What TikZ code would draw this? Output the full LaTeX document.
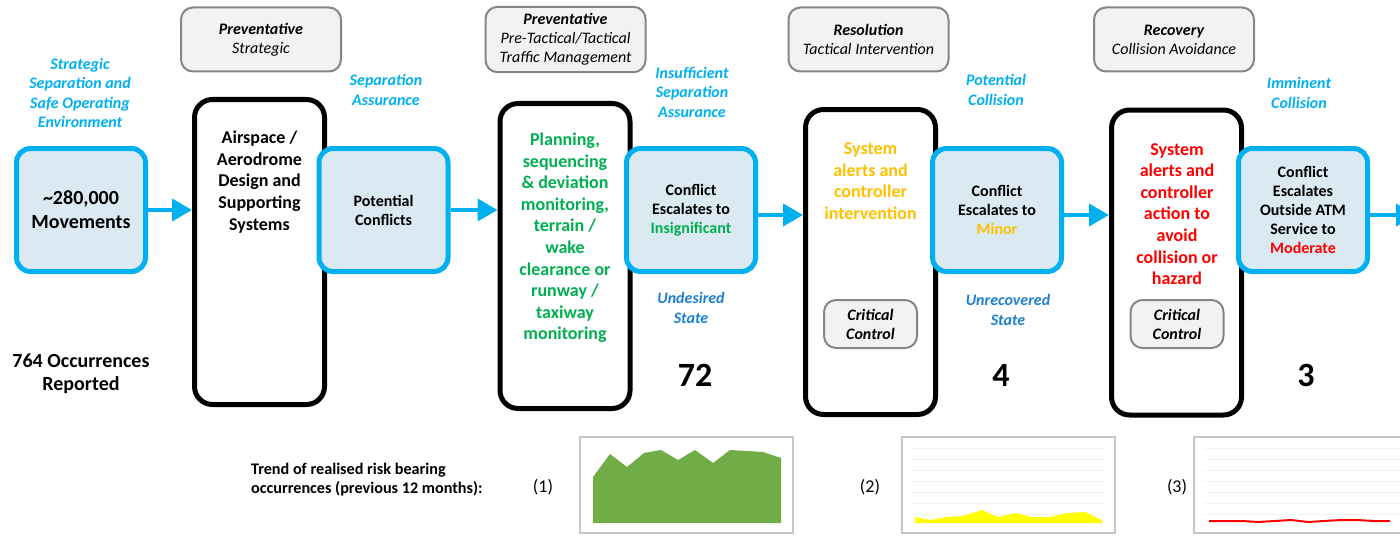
\documentclass[tikz,border=0pt]{standalone}
\usepackage{fontspec}
\setmainfont{Carlito}
\usetikzlibrary{arrows.meta}

\definecolor{skyblue}{RGB}{0,176,240}
\definecolor{stateblue}{RGB}{30,128,210}
\definecolor{boxfill}{RGB}{219,234,242}
\definecolor{safegreen}{RGB}{0,176,80}
\definecolor{minorgold}{RGB}{255,192,0}
\definecolor{chartgreen}{RGB}{112,173,71}
\definecolor{chartyellow}{RGB}{255,255,0}

\tikzset{
    graybox/.style={rectangle,rounded corners=6pt,line width=1pt,draw=black!48,fill=black!5,align=center},
    gridline/.style={black!5,line width=0.5pt},
    chartframe/.style={black!22,line width=0.6pt}
}

\begin{document}
\begin{tikzpicture}[x=0.5pt,y=-0.5pt]

    \useasboundingbox (0,0) rectangle (1400,535);
    \clip (0,0) rectangle (1400,535);

        \begin{scope}[every node/.style={rectangle,rounded corners=9pt,line width=2.5pt,draw=black,fill=white,minimum width=65pt,minimum height=152.5pt}]
            \node (b1) at (259.5,252) {};
            \node (b2) at (565,256) {};
            \node (b3) at (870.5,262) {};
            \node (b4) at (1176.5,262.5) {};
        \end{scope}

        \begin{scope}[every node/.style={rectangle,rounded corners=7pt,line width=2.5pt,draw=skyblue,fill=boxfill,minimum width=64.5pt,minimum height=61.5pt,align=center,font=\bfseries\fontsize{8}{9.5}\selectfont}]
            \node[font=\bfseries\fontsize{10}{12}\selectfont] (m1) at (81,210) {\textasciitilde280,000\\Movements};
            \node (m2) at (383.5,210) {Potential\\Conflicts};
            \node (m3) at (691,210) {Conflict\\Escalates to\\\textcolor{safegreen}{Insignificant}};
            \node (m4) at (997,210) {Conflict\\Escalates to\\\textcolor{minorgold}{Minor}};
            \node (m5) at (1303,210) {Conflict\\Escalates\\Outside ATM\\Service to\\\textcolor{red}{Moderate}};
        \end{scope}

        \begin{scope}[every node/.style={graybox,minimum width=80pt,minimum height=32pt,font=\itshape\fontsize{8}{9.5}\selectfont}]
            \node (g1) at (261,39.5) {\textbf{Preventative}\\Strategic};
            \node (g2) at (565.5,39.5) {\textbf{Preventative}\\Pre-Tactical/Tactical\\Traffic Management};
            \node (g3) at (868.5,39.5) {\textbf{Resolution}\\Tactical Intervention};
            \node (g4) at (1174,39.5) {\textbf{Recovery}\\Collision Avoidance};
        \end{scope}

        \begin{scope}[every node/.style={graybox,minimum width=46.5pt,minimum height=24pt,font=\bfseries\itshape\fontsize{8}{9.5}\selectfont}]
            \node (cc1) at (870.5,324) {Critical\\Control};
            \node (cc2) at (1177,324) {Critical\\Control};
        \end{scope}

        \coordinate (out) at (1416,215);

        \begin{scope}[every edge/.style={draw=skyblue,line width=2pt,-{Triangle[length=10pt,width=11pt]}}]
            \path (m1.east) edge (m1.east -| b1.west);
            \path (m2.east) edge (m2.east -| b2.west);
            \path ([yshift=-2.5pt]m3.east) edge ([yshift=-2.5pt]m3.east -| b3.west);
            \path ([yshift=-2.5pt]m4.east) edge ([yshift=-2.5pt]m4.east -| b4.west);
            \path (m5.east |- out) edge (out);
        \end{scope}

        \begin{scope}[every node/.style={align=center,text=skyblue,font=\bfseries\itshape\fontsize{8}{9.75}\selectfont}]
            \node (l1) at (80,93) {Strategic\\Separation and\\Safe Operating\\Environment};
            \node (l2) at (386,90) {Separation\\Assurance};
            \node (l3) at (692,92) {Insufficient\\Separation\\Assurance};
            \node (l4) at (996,90) {Potential\\Collision};
            \node (l5) at (1299,93) {Imminent\\Collision};
            \node[text=stateblue] (s1) at (691,308) {Undesired\\State};
            \node[text=stateblue] (s2) at (1008,310) {Unrecovered\\State};
        \end{scope}

        \begin{scope}[every node/.style={align=center,font=\bfseries\fontsize{9}{10.8}\selectfont}]
            \node (p1) at (259.5,182) {Airspace /\\Aerodrome\\Design and\\Supporting\\Systems};
            \node[text=safegreen] (p2) at (565,238) {Planning,\\sequencing\\\& deviation\\monitoring,\\terrain /\\wake\\clearance or\\runway /\\taxiway\\monitoring};
            \node[text=minorgold] (p3) at (870.5,181) {System\\alerts and\\controller\\intervention};
            \node[text=red] (p4) at (1177,214) {System\\alerts and\\controller\\action to\\avoid\\collision or\\hazard};
        \end{scope}

        \begin{scope}[every node/.style={align=center,font=\bfseries\fontsize{17}{20}\selectfont}]
            \node[font=\bfseries\fontsize{10}{11.5}\selectfont] (occ) at (81,374) {764 Occurrences\\Reported};
            \node (n1) at (695,375) {72};
            \node (n2) at (1001,375) {4};
            \node (n3) at (1306,375) {3};
        \end{scope}

        \node[anchor=west,align=left,font=\bfseries\fontsize{8.1}{9.5}\selectfont] (trend) at (244,480) {Trend of realised risk bearing\\occurrences (previous 12 months):};

        \begin{scope}[every node/.style={font=\fontsize{9}{11}\selectfont}]
            \node (k1) at (543,487) {(1)};
            \node (k2) at (870,487) {(2)};
            \node (k3) at (1177,487) {(3)};
        \end{scope}

        \draw[chartframe] (580,437) rectangle (793,533);
        \fill[chartgreen] (593,523) -- (593,477) -- (610,454) -- (627,467) -- (644,453) -- (661,450) -- (678,460)
            -- (695,450) -- (713,463) -- (730,450) -- (747,451) -- (763,452) -- (781,458) -- (781,523) -- cycle;

        \draw[chartframe] (902,437) rectangle (1115,533);
        \foreach \y in {448,459,...,515}
            \draw[gridline] (912,\y) -- (1105,\y);
        \fill[chartyellow] (915,523) -- (915,517) -- (930,520) -- (947,517) -- (963,516) -- (982,510) -- (998,517)
            -- (1015,513) -- (1032,517) -- (1050,517) -- (1067,513) -- (1085,512) -- (1102,520) -- (1102,523) -- cycle;

        \draw[chartframe] (1194,437) rectangle (1410,533);
        \foreach \y in {448,459,...,515}
            \draw[gridline] (1204,\y) -- (1400,\y);
        \draw[red,line width=1pt] (1209,521) -- (1225,521) -- (1242,521) -- (1258,522) -- (1275,521) -- (1291,520)
            -- (1308,522) -- (1324,521) -- (1341,520) -- (1357,520) -- (1374,521) -- (1390,521);

\end{tikzpicture}
\end{document}
